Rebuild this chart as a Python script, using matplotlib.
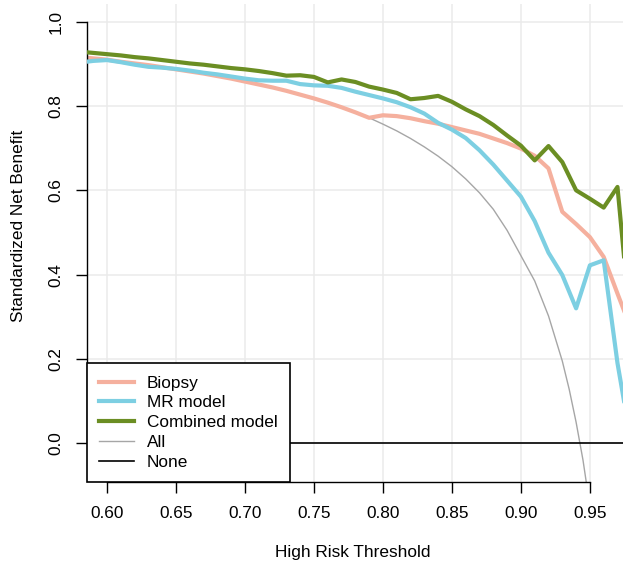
import numpy as np
import matplotlib
matplotlib.use("Agg")
from matplotlib import pyplot as plt

# decision curve data
thresholds = [0.58, 0.59, 0.60, 0.61, 0.62, 0.63, 0.64, 0.65, 0.66, 0.67,
              0.68, 0.69, 0.70, 0.71, 0.72, 0.73, 0.74, 0.75, 0.76, 0.77,
              0.78, 0.79, 0.80, 0.81, 0.82, 0.83, 0.84, 0.85, 0.86, 0.87,
              0.88, 0.89, 0.90, 0.91, 0.92, 0.93, 0.94, 0.95, 0.96, 0.97, 0.98]

biopsy = [0.916, 0.913, 0.910, 0.905, 0.901, 0.897, 0.892, 0.887, 0.882, 0.877,
          0.871, 0.865, 0.858, 0.851, 0.844, 0.836, 0.827, 0.818, 0.808, 0.797,
          0.785, 0.772, 0.778, 0.776, 0.771, 0.764, 0.758, 0.750, 0.742, 0.734,
          0.723, 0.712, 0.699, 0.682, 0.652, 0.549, 0.520, 0.489, 0.442, 0.355, 0.270]

mr_model = [0.903, 0.907, 0.909, 0.904, 0.898, 0.893, 0.891, 0.888, 0.884, 0.879,
            0.875, 0.870, 0.865, 0.861, 0.860, 0.860, 0.852, 0.849, 0.848, 0.843,
            0.834, 0.826, 0.818, 0.809, 0.797, 0.782, 0.760, 0.744, 0.724, 0.695,
            0.661, 0.623, 0.585, 0.527, 0.452, 0.399, 0.320, 0.422, 0.434, 0.190, 0.000]

combined = [0.929, 0.926, 0.923, 0.920, 0.916, 0.913, 0.909, 0.905, 0.901, 0.898,
            0.894, 0.890, 0.887, 0.883, 0.878, 0.872, 0.873, 0.869, 0.856, 0.863,
            0.857, 0.846, 0.839, 0.831, 0.816, 0.819, 0.824, 0.810, 0.792, 0.776,
            0.755, 0.730, 0.706, 0.671, 0.705, 0.667, 0.600, 0.580, 0.559, 0.608, 0.260]

all_x = [0.58, 0.59, 0.60, 0.61, 0.62, 0.63, 0.64, 0.65, 0.66, 0.67,
         0.68, 0.69, 0.70, 0.71, 0.72, 0.73, 0.74, 0.75, 0.76, 0.77,
         0.78, 0.79, 0.80, 0.81, 0.82, 0.83, 0.84, 0.85, 0.86, 0.87,
         0.88, 0.89, 0.90, 0.91, 0.92, 0.93, 0.935, 0.94, 0.945, 0.95]
all_y = [0.916, 0.913, 0.909, 0.905, 0.901, 0.897, 0.892, 0.887, 0.882, 0.877,
         0.871, 0.865, 0.858, 0.851, 0.844, 0.836, 0.827, 0.818, 0.808, 0.797,
         0.785, 0.772, 0.757, 0.741, 0.723, 0.703, 0.681, 0.656, 0.627, 0.594,
         0.555, 0.505, 0.445, 0.385, 0.302, 0.195, 0.128, 0.050, -0.040, -0.150]

x_ticks = [0.60, 0.65, 0.70, 0.75, 0.80, 0.85, 0.90, 0.95]
y_ticks = [0.0, 0.2, 0.4, 0.6, 0.8, 1.0]

plt.rcParams['font.family'] = ['Liberation Sans', 'DejaVu Sans']
plt.rcParams['font.size'] = 12.4

fig = plt.figure(figsize=(6.23, 5.62), dpi=100)
ax = fig.add_axes([87 / 623, 80 / 562, 536 / 623, 478 / 562])

for v in x_ticks:
    ax.axvline(v, color="#EBEBEB", lw=1.1, zorder=0)
for v in y_ticks:
    ax.axhline(v, color="#EBEBEB", lw=1.1, zorder=0)

ax.plot(all_x, all_y, color="#A6A6A6", lw=1.0, label="All", zorder=1)
ax.axhline(0, color="black", lw=1.2, label="None", zorder=1)
ax.plot(thresholds, biopsy, color="#F5B09E", lw=3.0, label="Biopsy", zorder=2)
ax.plot(thresholds, mr_model, color="#7DCFE2", lw=3.0, label="MR model", zorder=3)
ax.plot(thresholds, combined, color="#6B8E23", lw=3.0, label="Combined model", zorder=4)

ax.set_xlim(0.5855, 0.974)
ax.set_ylim(-0.092, 1.042)

ax.set_xticks(x_ticks)
ax.set_xticklabels(["%.2f" % v for v in x_ticks])
ax.set_yticks(y_ticks)
ax.set_yticklabels(["%.1f" % v for v in y_ticks], rotation=90, va="center")
ax.tick_params(axis="both", direction="out", length=7.7, width=1.0, colors="black")
ax.tick_params(axis="x", pad=9.5)
ax.tick_params(axis="y", pad=9)

for s in ["top", "right"]:
    ax.spines[s].set_visible(False)
ax.spines["left"].set_bounds(0.0, 1.0)
ax.spines["bottom"].set_bounds(0.60, 0.95)
ax.spines["left"].set_linewidth(1.0)
ax.spines["bottom"].set_linewidth(1.0)

ax.set_xlabel("High Risk Threshold", va="center")
ax.xaxis.set_label_coords(0.496, -0.148)
ax.set_ylabel("Standardized Net Benefit", va="center", ha="center")
ax.yaxis.set_label_coords(-0.128, 0.536)

handles, labels = ax.get_legend_handles_labels()
order = ["Biopsy", "MR model", "Combined model", "All", "None"]
hmap = dict(zip(labels, handles))
leg = ax.legend([hmap[k] for k in order], order, loc="lower left",
                bbox_to_anchor=(0, 0), borderaxespad=0, fancybox=False,
                framealpha=1, edgecolor="black", handlelength=2.0,
                handletextpad=0.75, labelspacing=0.27, borderpad=0.72)
leg.get_frame().set_linewidth(1.2)
leg.set_zorder(10)

plt.savefig("out.png", dpi=100)
